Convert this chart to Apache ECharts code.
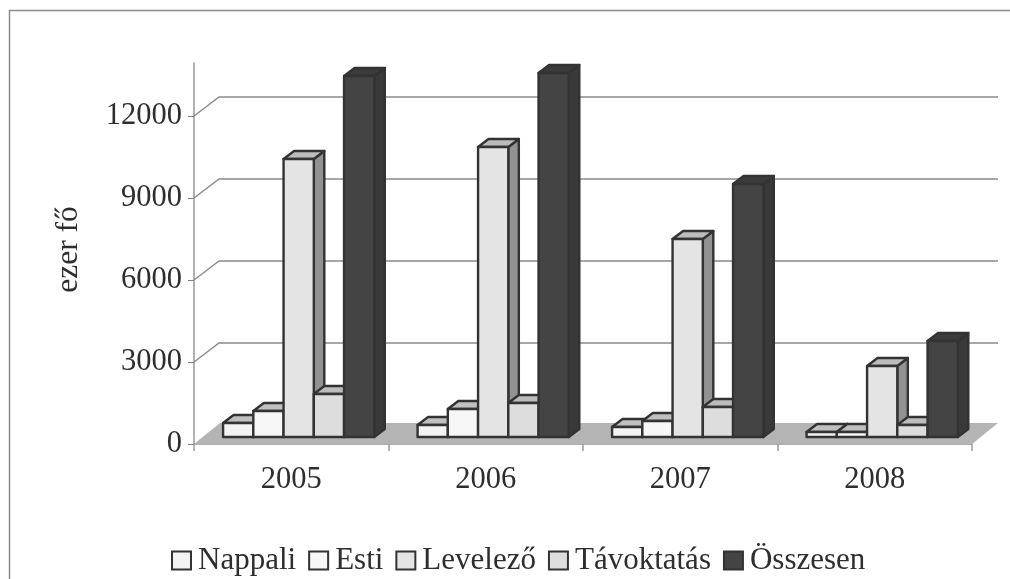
<!DOCTYPE html>
<html><head><meta charset="utf-8">
<style>html,body{margin:0;padding:0;background:#fff}#c{width:1010px;height:579px}</style>
<script src="https://cdn.jsdelivr.net/npm/echarts@6/dist/echarts.min.js"></script>
</head><body><div id="c"></div>
<script>
const years = ['2005','2006','2007','2008'];
const nappali = [512,439,366,183];
const esti = [951,1024,585,183];
const levelezo = [10171,10610,7244,2598];
const tavoktatas = [1573,1244,1098,439];
const osszesen = [13207,13317,9256,3512];
const yTicks = [0,3000,6000,9000,12000];
const FONT = '"Liberation Serif","Times New Roman",serif';
const TXT = '#2e2e2e';
const chart = echarts.init(document.getElementById('c'),null,{renderer:'canvas'});

function barSeries(name,values,idx,front,top,side,edge){
  return {
    name,type:'custom',coordinateSystem:'cartesian2d',z:5,clip:false,
    itemStyle:{color:front,borderColor:'#333333',borderWidth:2.5},
    data:values.map((v,i)=>[i,v]),
    encode:{x:0,y:1},
    renderItem(params,api){
      const w=api.size([1,0])[0], bw=w*0.1555, dx=10.5, dy=8;
      const c=api.coord([api.value(0),api.value(1)]);
      const b=api.coord([api.value(0),0]);
      const x0=c[0]-w/2+w*0.1495+idx*bw, x1=x0+bw;
      const yt=c[1]-7, yb=b[1]-7;
      const st={stroke:edge,lineWidth:2.4,lineJoin:'round'};
      return {type:'group',children:[
        {type:'polygon',shape:{points:[[x1,yb],[x1+dx,yb-dy],[x1+dx,yt-dy],[x1,yt]]},style:{fill:side,...st}},
        {type:'polygon',shape:{points:[[x0,yt],[x0+dx,yt-dy],[x1+dx,yt-dy],[x1,yt]]},style:{fill:top,...st}},
        {type:'rect',shape:{x:x0,y:yt,width:bw,height:yb-yt},style:{fill:front,...st}}
      ]};
    }
  };
}

chart.setOption({
  animation:false,
  backgroundColor:'#ffffff',
  graphic:[
    {type:'polyline',silent:true,z:0,shape:{points:[[9.5,579],[9.5,10.5],[1010,10.5]]},style:{fill:null,stroke:'#8c8c8c',lineWidth:1.5}}
  ],
  grid:{left:194,right:38,top:63,bottom:135,containLabel:false},
  legend:{
    data:['Nappali','Esti','Levelező','Távoktatás','Összesen'],
    left:166,top:540,itemWidth:19,itemHeight:18,itemGap:12,icon:'rect',
    textStyle:{fontFamily:FONT,fontSize:31,color:TXT,padding:[0,0,4,2]},
    selectedMode:false
  },
  xAxis:{
    type:'category',data:years,
    axisLine:{lineStyle:{color:'#999999',width:1.5}},
    axisTick:{show:true,alignWithLabel:false,length:7,lineStyle:{color:'#999999',width:1.5}},
    axisLabel:{fontFamily:FONT,fontSize:30.5,color:TXT,margin:20}
  },
  yAxis:{
    type:'value',min:0,max:13940,interval:3000,
    name:'ezer fő',nameLocation:'middle',nameGap:109,nameRotate:90,
    nameTextStyle:{fontFamily:FONT,fontSize:31.5,color:TXT,padding:[0,0,0,8]},
    axisLine:{show:true,lineStyle:{color:'#999999',width:1.5}},
    axisTick:{show:true,length:6,customValues:yTicks,lineStyle:{color:'#808080',width:1}},
    axisLabel:{fontFamily:FONT,fontSize:30.5,color:TXT,margin:12,customValues:yTicks,padding:[0,0,5,0],formatter:v=>String(v)},
    splitLine:{show:false}
  },
  series:[
    {name:'floor',type:'custom',z:1,clip:false,silent:true,data:[[0,0]],encode:{x:0,y:1},
      renderItem(params,api){
        const s=params.coordSys,y=api.coord([0,0])[1],L=s.x,R=s.x+s.width;
        return {type:'polygon',shape:{points:[[L,y],[L+26,y-21],[R+26,y-21],[R,y]]},style:{fill:'#b4b4b4'}};
      }},
    {name:'walls',type:'custom',z:2,clip:false,silent:true,data:yTicks.filter(v=>v>0).map(v=>[0,v]),encode:{x:0,y:1},
      renderItem(params,api){
        const s=params.coordSys,y=api.coord([0,api.value(1)])[1],L=s.x,R=s.x+s.width;
        return {type:'polyline',shape:{points:[[L,y],[L+25,y-19],[R+26,y-19]]},style:{fill:null,stroke:'#8a8a8a',lineWidth:1.4}};
      }},
    barSeries('Nappali',nappali,0,'#f3f3f3','#c0c0c0','#929292','#333333'),
    barSeries('Esti',esti,1,'#f7f7f7','#c0c0c0','#929292','#333333'),
    barSeries('Levelező',levelezo,2,'#e4e4e4','#bcbcbc','#929292','#333333'),
    barSeries('Távoktatás',tavoktatas,3,'#dddddd','#bcbcbc','#929292','#333333'),
    barSeries('Összesen',osszesen,4,'#444444','#3b3b3b','#393939','#333333')
  ]
});
</script></body></html>
